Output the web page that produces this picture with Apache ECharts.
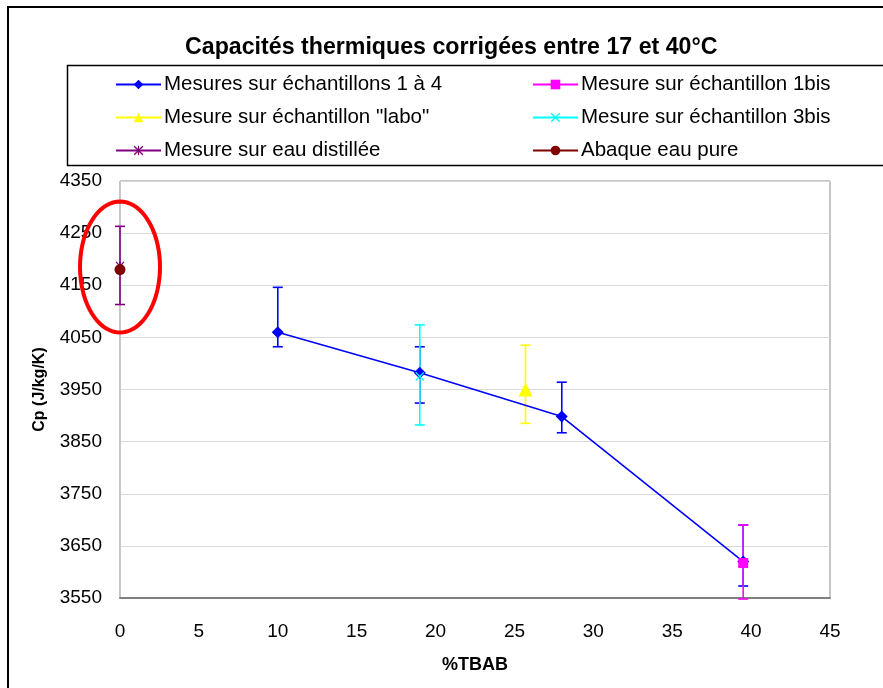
<!DOCTYPE html>
<html>
<head>
<meta charset="utf-8">
<script src="https://cdn.jsdelivr.net/npm/echarts@6/dist/echarts.min.js"></script>
<style>
  html, body { margin: 0; padding: 0; background: #fff; }
  #chart { width: 883px; height: 688px; }
</style>
</head>
<body>
<div id="chart"></div>
<script>
// --- données ---
const nomsSeries = [
  'Mesures sur échantillons 1 à 4',
  'Mesure sur échantillon 1bis',
  'Mesure sur échantillon "labo"',
  'Mesure sur échantillon 3bis',
  'Mesure sur eau distillée',
  'Abaque eau pure'
];

// Mesures sur échantillons 1 à 4
const tbabMesures = [10, 19, 28, 39.5];
const cpMesures = [4060, 3982, 3898, 3620];
const hautMesures = [4146, 4032, 3964, 3690];
const basMesures = [4032, 3924, 3867, 3573];

// échantillon 1bis
const tbab1bis = [39.5];
const cp1bis = [3617];
const haut1bis = [3690];
const bas1bis = [3548];

// échantillon "labo"
const tbabLabo = [25.7];
const cpLabo = [3950];
const hautLabo = [4035];
const basLabo = [3885];

// échantillon 3bis
const tbab3bis = [19];
const cp3bis = [3975];
const haut3bis = [4074];
const bas3bis = [3882];

// eau distillée
const tbabEau = [0];
const cpEau = [4187];
const hautEau = [4263];
const basEau = [4113];

// abaque eau pure
const tbabAbaque = [0];
const cpAbaque = [4180];

// axes
const xTicks = [0, 5, 10, 15, 20, 25, 30, 35, 40, 45];
const yMin = 3550, yMax = 4350, yPas = 100;

const police = "'Liberation Sans', Arial, sans-serif";
const couleurs = ['#0000ff', '#ff00ff', '#ffff00', '#00ffff', '#800080', '#800000'];

function paires(xs, ys) { return xs.map((x, i) => [x, ys[i]]); }
function barres(xs, bas, haut) { return xs.map((x, i) => [x, bas[i], haut[i]]); }

// barre d'erreur verticale avec chapeaux
function dessinBarre(params, api) {
  const p1 = api.coord([api.value(0), api.value(1)]);
  const p2 = api.coord([api.value(0), api.value(2)]);
  const d = 5;
  const st = { stroke: api.visual('color'), lineWidth: 1.6 };
  return {
    type: 'group',
    children: [
      { type: 'line', shape: { x1: p1[0], y1: p1[1], x2: p2[0], y2: p2[1] }, style: st },
      { type: 'line', shape: { x1: p1[0] - d, y1: p1[1], x2: p1[0] + d, y2: p1[1] }, style: st },
      { type: 'line', shape: { x1: p2[0] - d, y1: p2[1], x2: p2[0] + d, y2: p2[1] }, style: st }
    ]
  };
}

function serieBarres(couleur, donnees) {
  return {
    type: 'custom',
    renderItem: dessinBarre,
    itemStyle: { color: couleur },
    data: donnees,
    encode: { x: 0, y: [1, 2] },
    silent: true,
    z: 1
  };
}

const symboleCroix = 'path://M0,1L1,0L5,4L9,0L10,1L6,5L10,9L9,10L5,6L1,10L0,9L4,5Z';
const symboleEtoile = 'path://M0,1L1,0L5,4L9,0L10,1L6,5L10,9L9,10L5,6L1,10L0,9L4,5Z M4.4,0L5.6,0L5.6,10L4.4,10Z';

function serieLigne(nom, couleur, donnees, symbole, taille) {
  return {
    name: nom,
    type: 'line',
    data: donnees,
    symbol: symbole,
    symbolSize: taille,
    showSymbol: true,
    lineStyle: { color: couleur, width: 1.6 },
    itemStyle: { color: couleur },
    emphasis: { disabled: true },
    z: 3
  };
}

// ellipse rouge (annotation autour du point de l'eau)
const ellipse = {
  type: 'custom',
  silent: true,
  data: [[0, 4185]],
  renderItem: function (params, api) {
    const c = api.coord([api.value(0), api.value(1)]);
    const pts = [];
    for (let k = 0; k < 72; k++) {
      const a = k / 72 * Math.PI * 2;
      pts.push([c[0] + 40 * Math.cos(a), c[1] + 65.5 * Math.sin(a)]);
    }
    return { type: 'polygon', shape: { points: pts }, style: { fill: 'none', stroke: '#ff0000', lineWidth: 4 } };
  },
  z: 5
};

const chart = echarts.init(document.getElementById('chart'), null, { renderer: 'canvas' });

const styleLegende = { fontFamily: police, fontSize: 20.5, color: '#000', lineHeight: 21, padding: [0, 0, 0, -2] };

const option = {
  backgroundColor: '#fff',
  animation: false,
  textStyle: { fontFamily: police },
  title: {
    text: 'Capacités thermiques corrigées entre 17 et 40°C',
    left: 180,
    top: 31,
    textStyle: { fontFamily: police, fontSize: 23.2, fontWeight: 'bold', color: '#000' }
  },
  legend: [
    {
      data: [nomsSeries[0], nomsSeries[2], nomsSeries[4]],
      orient: 'vertical',
      left: 110,
      top: 69,
      itemWidth: 45,
      itemHeight: 12,
      itemGap: 12,
      selectedMode: false,
      textStyle: styleLegende
    },
    {
      data: [nomsSeries[1], nomsSeries[3], nomsSeries[5]],
      orient: 'vertical',
      left: 527,
      top: 69,
      itemWidth: 45,
      itemHeight: 12,
      itemGap: 12,
      selectedMode: false,
      textStyle: styleLegende
    }
  ],
  graphic: [
    { type: 'rect', shape: { x: 8, y: 7, width: 900, height: 700 }, style: { fill: 'none', stroke: '#000', lineWidth: 2 }, silent: true },
    { type: 'rect', shape: { x: 67.5, y: 65.5, width: 900, height: 100 }, style: { fill: 'none', stroke: '#000', lineWidth: 1.5 }, silent: true }
  ],
  grid: {
    left: 120,
    right: 53,
    top: 181,
    bottom: 90,
    show: true,
    borderColor: '#8c8c8c',
    borderWidth: 1,
    backgroundColor: '#fff'
  },
  xAxis: {
    type: 'value',
    min: xTicks[0],
    max: xTicks[xTicks.length - 1],
    interval: 5,
    name: '%TBAB',
    nameLocation: 'middle',
    nameGap: 58,
    nameTextStyle: { fontFamily: police, fontSize: 18, fontWeight: 'bold', color: '#000' },
    axisLine: { show: true, lineStyle: { color: '#808080', width: 2 } },
    axisTick: { show: false },
    axisLabel: { fontFamily: police, fontSize: 19, color: '#000', margin: 24 },
    splitLine: { show: false }
  },
  yAxis: {
    type: 'value',
    min: yMin,
    max: yMax,
    interval: yPas / 2,
    name: 'Cp (J/kg/K)',
    nameLocation: 'middle',
    nameGap: 72,
    nameTextStyle: { fontFamily: police, fontSize: 16, fontWeight: 'bold', color: '#000' },
    axisLine: { show: true, lineStyle: { color: '#c8c8c8', width: 1 } },
    axisTick: { show: false },
    axisLabel: {
      fontFamily: police, fontSize: 19, color: '#000', margin: 18,
      formatter: v => ((v - yMin) % yPas === 0 ? String(v) : '')
    },
    splitLine: { show: true, lineStyle: { color: ['#d9d9d9', 'rgba(0,0,0,0)'], width: 1 } }
  },
  series: [
    serieBarres(couleurs[0], barres(tbabMesures, basMesures, hautMesures)),
    serieBarres(couleurs[1], barres(tbab1bis, bas1bis, haut1bis)),
    serieBarres(couleurs[2], barres(tbabLabo, basLabo, hautLabo)),
    serieBarres(couleurs[3], barres(tbab3bis, bas3bis, haut3bis)),
    serieBarres(couleurs[4], barres(tbabEau, basEau, hautEau)),
    serieLigne(nomsSeries[0], couleurs[0], paires(tbabMesures, cpMesures), 'diamond', 12),
    serieLigne(nomsSeries[1], couleurs[1], paires(tbab1bis, cp1bis), 'rect', 10),
    serieLigne(nomsSeries[2], couleurs[2], paires(tbabLabo, cpLabo), 'triangle', 14),
    serieLigne(nomsSeries[3], couleurs[3], paires(tbab3bis, cp3bis), symboleCroix, 9),
    serieLigne(nomsSeries[4], couleurs[4], paires(tbabEau, cpEau), symboleEtoile, 9),
    serieLigne(nomsSeries[5], couleurs[5], paires(tbabAbaque, cpAbaque), 'circle', 11),
    ellipse
  ]
};

chart.setOption(option);
</script>
</body>
</html>
